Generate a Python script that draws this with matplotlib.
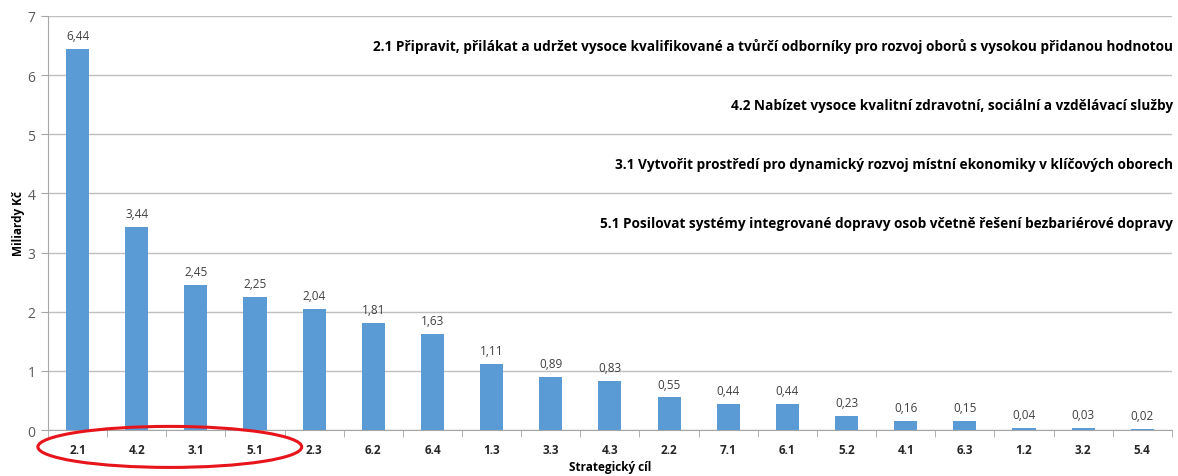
import matplotlib.pyplot as plt
from matplotlib.patches import Ellipse
from matplotlib.transforms import blended_transform_factory

plt.rcParams['font.family'] = ['Open Sans', 'DejaVu Sans']

# strategic goals sorted by allocation
goals = ['2.1', '4.2', '3.1', '5.1', '2.3', '6.2', '6.4', '1.3', '3.3', '4.3',
         '2.2', '7.1', '6.1', '5.2', '4.1', '6.3', '1.2', '3.2', '5.4']
values = [6.44, 3.44, 2.45, 2.25, 2.04, 1.81, 1.63, 1.11, 0.89, 0.83,
          0.55, 0.44, 0.44, 0.23, 0.16, 0.15, 0.04, 0.03, 0.02]

# descriptions of the top four goals
notes = [
    '2.1 Připravit, přilákat a udržet vysoce kvalifikované a tvůrčí odborníky pro rozvoj oborů s vysokou přidanou hodnotou',
    '4.2 Nabízet vysoce kvalitní zdravotní, sociální a vzdělávací služby',
    '3.1 Vytvořit prostředí pro dynamický rozvoj místní ekonomiky v klíčových oborech',
    '5.1 Posilovat systémy integrované dopravy osob včetně řešení bezbariérové dopravy',
]
note_y = [6.5, 5.5, 4.5, 3.5]

fig = plt.figure(figsize=(11.78, 4.77), dpi=100)
ax = fig.add_axes([0.0407, 0.0964, 0.9541, 0.868])

x = list(range(len(goals)))
ax.bar(x, values, width=0.39, color='#5B9BD5', zorder=3)
for xi, v in zip(x, values):
    ax.annotate(f'{v:.2f}'.replace('.', ','), (xi, v), xytext=(0, 5),
                textcoords='offset points', ha='center', va='bottom',
                fontsize=8.5, color='#404040')

ax.set_xlim(-0.5, len(goals) - 0.5)
ax.set_ylim(0, 7)
ax.set_yticks(range(8))
ax.yaxis.grid(True, color='#BFBFBF', linewidth=1, zorder=0)
ax.set_xticks(x)
ax.set_xticklabels(goals, fontweight='bold', fontsize=8.5, color='#262626')
ax.set_xticks([i + 0.5 for i in range(-1, len(goals))], minor=True)
ax.tick_params(axis='x', which='major', length=0, pad=9)
ax.tick_params(axis='x', which='minor', length=5, color='#A6A6A6')
ax.tick_params(axis='y', length=5, color='#A6A6A6', labelsize=10,
               labelcolor='#595959', pad=4)
for s in ['top', 'right']:
    ax.spines[s].set_visible(False)
for s in ['left', 'bottom']:
    ax.spines[s].set_color('#A6A6A6')

ax.set_ylabel('Miliardy Kč', fontweight='bold', fontsize=8.5, labelpad=2)
ax.set_xlabel('Strategický cíl', fontweight='bold', fontsize=8.5, labelpad=3)

for t, y in zip(notes, note_y):
    ax.text(len(goals) - 0.48, y, t, ha='right', va='center',
            fontweight='bold', fontsize=9.8, color='black')

trans = blended_transform_factory(ax.transData, fig.transFigure)
ell = Ellipse((1.56, 0.061), 4.46, 0.086, transform=trans, fill=False,
              edgecolor='#E8141B', linewidth=2.2, clip_on=False, zorder=5)
fig.add_artist(ell)

fig.savefig('out.png', dpi=100)
